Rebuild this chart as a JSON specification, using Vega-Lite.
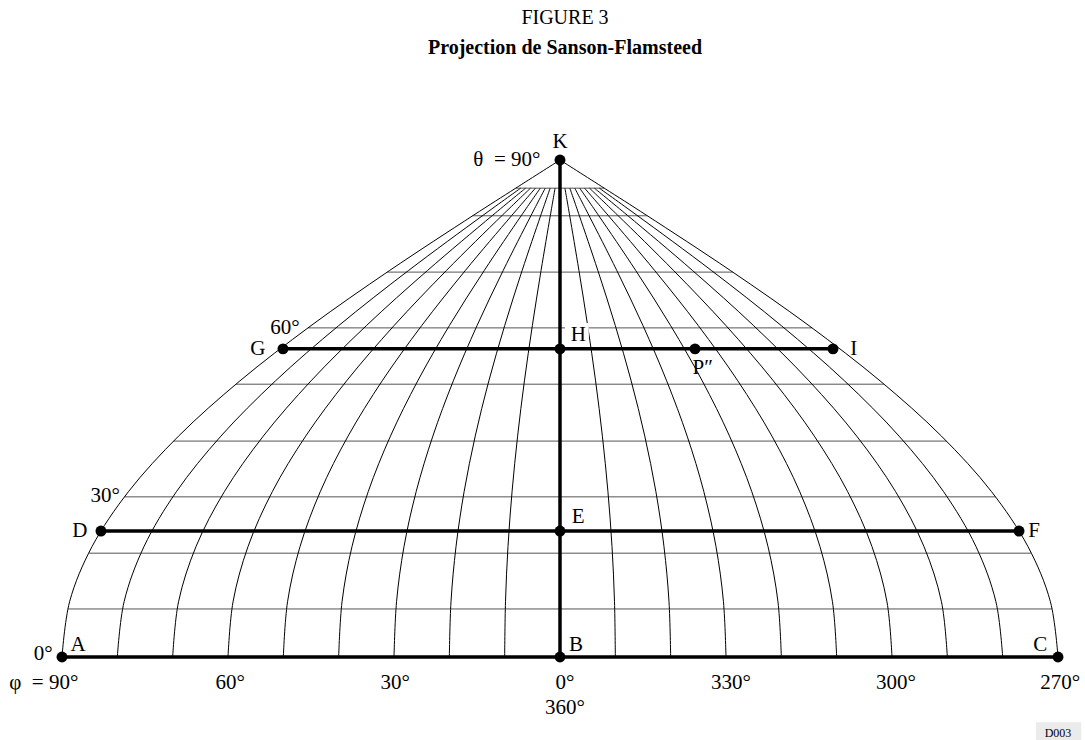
{
  "$schema": "https://vega.github.io/schema/vega-lite/v6.json",
  "autosize": "none",
  "width": 996,
  "height": 497,
  "padding": {"left": 62, "top": 160, "right": 27, "bottom": 83},
  "background": "white",
  "title": {
    "text": "FIGURE 3",
    "subtitle": "Projection de Sanson-Flamsteed",
    "font": "Liberation Serif",
    "fontSize": 20,
    "fontWeight": "normal",
    "color": "black",
    "subtitleFont": "Liberation Serif",
    "subtitleFontSize": 20,
    "subtitleFontWeight": "bold",
    "subtitleColor": "black",
    "subtitlePadding": 10,
    "anchor": "middle",
    "frame": "group",
    "offset": 73,
    "dx": 5
  },
  "config": {"view": {"stroke": null}},
  "datasets": {
    "parallels": [
      {"x": -88.96, "x2": 88.96, "y": 8.7},
      {"x": -85.2, "x2": 85.2, "y": 18.8},
      {"x": -78.72, "x2": 78.72, "y": 29.0},
      {"x": -69.84, "x2": 69.84, "y": 39.1},
      {"x": -58.57, "x2": 58.57, "y": 49.4},
      {"x": -45.54, "x2": 45.54, "y": 59.6},
      {"x": -31.22, "x2": 31.22, "y": 69.7},
      {"x": -15.78, "x2": 15.78, "y": 79.9},
      {"x": -8.0, "x2": 8.0, "y": 84.9}
    ],
    "meridians": [
      {"m":10,"x":10,"y":0},{"m":10,"x":9.85,"y":10},{"m":10,"x":9.4,"y":20},{"m":10,"x":8.66,"y":30},{"m":10,"x":7.66,"y":40},{"m":10,"x":6.43,"y":50},{"m":10,"x":5,"y":60},{"m":10,"x":3.42,"y":70},{"m":10,"x":1.74,"y":80},{"m":10,"x":0.89,"y":84.9},
      {"m":20,"x":20,"y":0},{"m":20,"x":19.7,"y":10},{"m":20,"x":18.79,"y":20},{"m":20,"x":17.32,"y":30},{"m":20,"x":15.32,"y":40},{"m":20,"x":12.86,"y":50},{"m":20,"x":10,"y":60},{"m":20,"x":6.84,"y":70},{"m":20,"x":3.47,"y":80},{"m":20,"x":1.78,"y":84.9},
      {"m":30,"x":30,"y":0},{"m":30,"x":29.54,"y":10},{"m":30,"x":28.19,"y":20},{"m":30,"x":25.98,"y":30},{"m":30,"x":22.98,"y":40},{"m":30,"x":19.28,"y":50},{"m":30,"x":15,"y":60},{"m":30,"x":10.26,"y":70},{"m":30,"x":5.21,"y":80},{"m":30,"x":2.67,"y":84.9},
      {"m":40,"x":40,"y":0},{"m":40,"x":39.39,"y":10},{"m":40,"x":37.59,"y":20},{"m":40,"x":34.64,"y":30},{"m":40,"x":30.64,"y":40},{"m":40,"x":25.71,"y":50},{"m":40,"x":20,"y":60},{"m":40,"x":13.68,"y":70},{"m":40,"x":6.95,"y":80},{"m":40,"x":3.56,"y":84.9},
      {"m":50,"x":50,"y":0},{"m":50,"x":49.24,"y":10},{"m":50,"x":46.98,"y":20},{"m":50,"x":43.3,"y":30},{"m":50,"x":38.3,"y":40},{"m":50,"x":32.14,"y":50},{"m":50,"x":25,"y":60},{"m":50,"x":17.1,"y":70},{"m":50,"x":8.68,"y":80},{"m":50,"x":4.44,"y":84.9},
      {"m":60,"x":60,"y":0},{"m":60,"x":59.09,"y":10},{"m":60,"x":56.38,"y":20},{"m":60,"x":51.96,"y":30},{"m":60,"x":45.96,"y":40},{"m":60,"x":38.57,"y":50},{"m":60,"x":30,"y":60},{"m":60,"x":20.52,"y":70},{"m":60,"x":10.42,"y":80},{"m":60,"x":5.33,"y":84.9},
      {"m":70,"x":70,"y":0},{"m":70,"x":68.94,"y":10},{"m":70,"x":65.78,"y":20},{"m":70,"x":60.62,"y":30},{"m":70,"x":53.62,"y":40},{"m":70,"x":45,"y":50},{"m":70,"x":35,"y":60},{"m":70,"x":23.94,"y":70},{"m":70,"x":12.16,"y":80},{"m":70,"x":6.22,"y":84.9},
      {"m":80,"x":80,"y":0},{"m":80,"x":78.78,"y":10},{"m":80,"x":75.18,"y":20},{"m":80,"x":69.28,"y":30},{"m":80,"x":61.28,"y":40},{"m":80,"x":51.42,"y":50},{"m":80,"x":40,"y":60},{"m":80,"x":27.36,"y":70},{"m":80,"x":13.89,"y":80},{"m":80,"x":7.11,"y":84.9},
      {"m":90,"x":90,"y":0},{"m":90,"x":88.63,"y":10},{"m":90,"x":84.57,"y":20},{"m":90,"x":77.94,"y":30},{"m":90,"x":68.94,"y":40},{"m":90,"x":57.85,"y":50},{"m":90,"x":45,"y":60},{"m":90,"x":30.78,"y":70},{"m":90,"x":15.63,"y":80},{"m":90,"x":8,"y":84.9},{"m":90,"x":0,"y":90},
      {"m":-10,"x":-10,"y":0},{"m":-10,"x":-9.85,"y":10},{"m":-10,"x":-9.4,"y":20},{"m":-10,"x":-8.66,"y":30},{"m":-10,"x":-7.66,"y":40},{"m":-10,"x":-6.43,"y":50},{"m":-10,"x":-5,"y":60},{"m":-10,"x":-3.42,"y":70},{"m":-10,"x":-1.74,"y":80},{"m":-10,"x":-0.89,"y":84.9},
      {"m":-20,"x":-20,"y":0},{"m":-20,"x":-19.7,"y":10},{"m":-20,"x":-18.79,"y":20},{"m":-20,"x":-17.32,"y":30},{"m":-20,"x":-15.32,"y":40},{"m":-20,"x":-12.86,"y":50},{"m":-20,"x":-10,"y":60},{"m":-20,"x":-6.84,"y":70},{"m":-20,"x":-3.47,"y":80},{"m":-20,"x":-1.78,"y":84.9},
      {"m":-30,"x":-30,"y":0},{"m":-30,"x":-29.54,"y":10},{"m":-30,"x":-28.19,"y":20},{"m":-30,"x":-25.98,"y":30},{"m":-30,"x":-22.98,"y":40},{"m":-30,"x":-19.28,"y":50},{"m":-30,"x":-15,"y":60},{"m":-30,"x":-10.26,"y":70},{"m":-30,"x":-5.21,"y":80},{"m":-30,"x":-2.67,"y":84.9},
      {"m":-40,"x":-40,"y":0},{"m":-40,"x":-39.39,"y":10},{"m":-40,"x":-37.59,"y":20},{"m":-40,"x":-34.64,"y":30},{"m":-40,"x":-30.64,"y":40},{"m":-40,"x":-25.71,"y":50},{"m":-40,"x":-20,"y":60},{"m":-40,"x":-13.68,"y":70},{"m":-40,"x":-6.95,"y":80},{"m":-40,"x":-3.56,"y":84.9},
      {"m":-50,"x":-50,"y":0},{"m":-50,"x":-49.24,"y":10},{"m":-50,"x":-46.98,"y":20},{"m":-50,"x":-43.3,"y":30},{"m":-50,"x":-38.3,"y":40},{"m":-50,"x":-32.14,"y":50},{"m":-50,"x":-25,"y":60},{"m":-50,"x":-17.1,"y":70},{"m":-50,"x":-8.68,"y":80},{"m":-50,"x":-4.44,"y":84.9},
      {"m":-60,"x":-60,"y":0},{"m":-60,"x":-59.09,"y":10},{"m":-60,"x":-56.38,"y":20},{"m":-60,"x":-51.96,"y":30},{"m":-60,"x":-45.96,"y":40},{"m":-60,"x":-38.57,"y":50},{"m":-60,"x":-30,"y":60},{"m":-60,"x":-20.52,"y":70},{"m":-60,"x":-10.42,"y":80},{"m":-60,"x":-5.33,"y":84.9},
      {"m":-70,"x":-70,"y":0},{"m":-70,"x":-68.94,"y":10},{"m":-70,"x":-65.78,"y":20},{"m":-70,"x":-60.62,"y":30},{"m":-70,"x":-53.62,"y":40},{"m":-70,"x":-45,"y":50},{"m":-70,"x":-35,"y":60},{"m":-70,"x":-23.94,"y":70},{"m":-70,"x":-12.16,"y":80},{"m":-70,"x":-6.22,"y":84.9},
      {"m":-80,"x":-80,"y":0},{"m":-80,"x":-78.78,"y":10},{"m":-80,"x":-75.18,"y":20},{"m":-80,"x":-69.28,"y":30},{"m":-80,"x":-61.28,"y":40},{"m":-80,"x":-51.42,"y":50},{"m":-80,"x":-40,"y":60},{"m":-80,"x":-27.36,"y":70},{"m":-80,"x":-13.89,"y":80},{"m":-80,"x":-7.11,"y":84.9},
      {"m":-90,"x":-90,"y":0},{"m":-90,"x":-88.63,"y":10},{"m":-90,"x":-84.57,"y":20},{"m":-90,"x":-77.94,"y":30},{"m":-90,"x":-68.94,"y":40},{"m":-90,"x":-57.85,"y":50},{"m":-90,"x":-45,"y":60},{"m":-90,"x":-30.78,"y":70},{"m":-90,"x":-15.63,"y":80},{"m":-90,"x":-8,"y":84.9},{"m":-90,"x":0,"y":90}
    ],
    "thick": [
      {"x": -90, "x2": 90, "y": 0, "y2": 0},
      {"x": -82.96, "x2": 82.96, "y": 22.8, "y2": 22.8},
      {"x": -50.06, "x2": 49.34, "y": 55.8, "y2": 55.8},
      {"x": 0, "x2": 0, "y": 0, "y2": 90}
    ],
    "points": [
      {"p": "A", "x": -90, "y": 0},
      {"p": "B", "x": 0, "y": 0},
      {"p": "C", "x": 90, "y": 0},
      {"p": "D", "x": -82.96, "y": 22.8},
      {"p": "E", "x": 0, "y": 22.8},
      {"p": "F", "x": 82.96, "y": 22.8},
      {"p": "G", "x": -50.06, "y": 55.8},
      {"p": "H", "x": 0, "y": 55.8},
      {"p": "P", "x": 24.4, "y": 55.8},
      {"p": "I", "x": 49.34, "y": 55.8},
      {"p": "K", "x": 0, "y": 90}
    ],
    "labels": [
      {"t": "K", "x": 0, "y": 93.3},
      {"t": "θ\u00a0\u00a0= 90°", "x": -9.6, "y": 90.0},
      {"t": "60°", "x": -49.7, "y": 59.6},
      {"t": "G", "x": -54.6, "y": 55.8},
      {"t": "H", "x": 3.3, "y": 58.3},
      {"t": "P″", "x": 25.8, "y": 52.3},
      {"t": "I", "x": 53.1, "y": 55.8},
      {"t": "30°", "x": -82.2, "y": 29.2},
      {"t": "D", "x": -86.8, "y": 22.8},
      {"t": "E", "x": 3.3, "y": 25.4},
      {"t": "F", "x": 85.7, "y": 22.8},
      {"t": "A", "x": -87.1, "y": 2.2},
      {"t": "0°", "x": -93.4, "y": 0.5},
      {"t": "B", "x": 2.9, "y": 2.2},
      {"t": "C", "x": 86.8, "y": 2.2},
      {"t": "φ\u00a0\u00a0= 90°", "x": -93.3, "y": -4.7},
      {"t": "60°", "x": -59.6, "y": -4.7},
      {"t": "30°", "x": -29.8, "y": -4.7},
      {"t": "0°", "x": 0.9, "y": -4.7},
      {"t": "360°", "x": 0.9, "y": -9.2},
      {"t": "330°", "x": 30.9, "y": -4.7},
      {"t": "300°", "x": 60.7, "y": -4.7},
      {"t": "270°", "x": 90.4, "y": -4.7}
    ],
    "masks": [
      {"x": 0.9, "x2": 5.2, "y": 56.4, "y2": 60.5}
    ],
    "tag": [
      {"t": "D003", "x": 90.0, "y": -13.8, "bx": 86.0, "bx2": 94.2, "by": -11.8, "by2": -16.3}
    ]
  },
  "layer": [
    {
      "data": {"name": "parallels"},
      "mark": {"type": "rule", "color": "#555555", "strokeWidth": 1},
      "encoding": {
        "x": {"field": "x", "type": "quantitative", "scale": {"domain": [-90, 90], "nice": false, "zero": false}, "axis": null},
        "x2": {"field": "x2"},
        "y": {"field": "y", "type": "quantitative", "scale": {"domain": [0, 90], "nice": false, "zero": false}, "axis": null}
      }
    },
    {
      "data": {"name": "meridians"},
      "mark": {"type": "line", "color": "black", "strokeWidth": 1, "interpolate": "catmull-rom"},
      "encoding": {
        "x": {"field": "x", "type": "quantitative"},
        "y": {"field": "y", "type": "quantitative"},
        "detail": {"field": "m", "type": "nominal"},
        "order": {"field": "y", "type": "quantitative"}
      }
    },
    {
      "data": {"name": "masks"},
      "mark": {"type": "rect", "fill": "white"},
      "encoding": {
        "x": {"field": "x", "type": "quantitative"},
        "x2": {"field": "x2"},
        "y": {"field": "y", "type": "quantitative"},
        "y2": {"field": "y2"}
      }
    },
    {
      "data": {"name": "thick"},
      "mark": {"type": "rule", "color": "black", "strokeWidth": 3.5},
      "encoding": {
        "x": {"field": "x", "type": "quantitative"},
        "x2": {"field": "x2"},
        "y": {"field": "y", "type": "quantitative"},
        "y2": {"field": "y2"}
      }
    },
    {
      "data": {"name": "points"},
      "mark": {"type": "point", "filled": true, "color": "black", "size": 120, "opacity": 1},
      "encoding": {
        "x": {"field": "x", "type": "quantitative"},
        "y": {"field": "y", "type": "quantitative"}
      }
    },
    {
      "data": {"name": "labels"},
      "mark": {"type": "text", "font": "Liberation Serif", "fontSize": 21, "color": "black", "align": "center", "baseline": "middle"},
      "encoding": {
        "x": {"field": "x", "type": "quantitative"},
        "y": {"field": "y", "type": "quantitative"},
        "text": {"field": "t", "type": "nominal"}
      }
    },
    {
      "data": {"name": "tag"},
      "mark": {"type": "rect", "fill": "#ebebeb"},
      "encoding": {
        "x": {"field": "bx", "type": "quantitative"},
        "x2": {"field": "bx2"},
        "y": {"field": "by", "type": "quantitative"},
        "y2": {"field": "by2"}
      }
    },
    {
      "data": {"name": "tag"},
      "mark": {"type": "text", "font": "Liberation Serif", "fontSize": 12, "color": "black", "align": "center", "baseline": "middle"},
      "encoding": {
        "x": {"field": "x", "type": "quantitative"},
        "y": {"field": "y", "type": "quantitative"},
        "text": {"field": "t", "type": "nominal"}
      }
    }
  ]
}
